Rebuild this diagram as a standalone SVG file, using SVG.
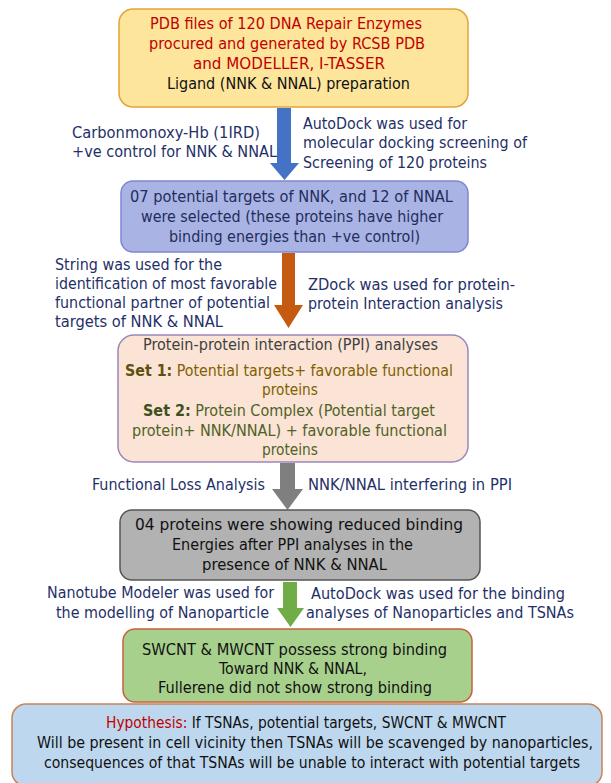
<svg xmlns="http://www.w3.org/2000/svg" width="611" height="783" viewBox="0 0 611 783">
<style>
text{font-family:"DejaVu Sans Condensed","DejaVu Sans",Tahoma,sans-serif;font-size:15px;}
.lbl{fill:#1f3068;}
.red{fill:#c00000;}
.blk{fill:#111111;}
.nav{fill:#1f2d5c;}
.b{font-weight:bold;}
</style>
<rect width="611" height="783" fill="#ffffff"/>
<g id="connectors">
  <polygon points="277,108 291,108 291,163 299,163 284.5,180 270,163 277,163" fill="#4472c4"/>
  <polygon points="282,253 295,253 295,305 303,305 288.5,328 274,305 282,305" fill="#c55a11"/>
  <polygon points="280,463 295,463 295,489 303,489 287.5,510 272,489 280,489" fill="#7f7f7f"/>
  <polygon points="283,582 297,582 297,608 304,608 290.5,627 277,608 283,608" fill="#70ad47"/>
</g>
<g id="labels">
  <text class="lbl" x="72" y="138" textLength="188" lengthAdjust="spacingAndGlyphs">Carbonmonoxy-Hb (1IRD)</text>
  <text class="lbl" x="72" y="157" textLength="205" lengthAdjust="spacingAndGlyphs">+ve control for NNK &amp; NNAL</text>
  <text class="lbl" x="303" y="129" textLength="164" lengthAdjust="spacingAndGlyphs">AutoDock was used for</text>
  <text class="lbl" x="303" y="148" textLength="224" lengthAdjust="spacingAndGlyphs">molecular docking screening of</text>
  <text class="lbl" x="303" y="168" textLength="184" lengthAdjust="spacingAndGlyphs">Screening of 120 proteins</text>
  <text class="lbl" x="55" y="270" textLength="167" lengthAdjust="spacingAndGlyphs">String was used for the</text>
  <text class="lbl" x="55" y="289" textLength="222" lengthAdjust="spacingAndGlyphs">identification of most favorable</text>
  <text class="lbl" x="55" y="308" textLength="215" lengthAdjust="spacingAndGlyphs">functional partner of potential</text>
  <text class="lbl" x="55" y="327" textLength="168" lengthAdjust="spacingAndGlyphs">targets of NNK &amp; NNAL</text>
  <text class="lbl" x="308" y="290" textLength="207" lengthAdjust="spacingAndGlyphs">ZDock was used for protein-</text>
  <text class="lbl" x="308" y="309" textLength="195" lengthAdjust="spacingAndGlyphs">protein Interaction analysis</text>
  <text class="lbl" x="92" y="490" textLength="173" lengthAdjust="spacingAndGlyphs">Functional Loss Analysis</text>
  <text class="lbl" x="308" y="490" textLength="204" lengthAdjust="spacingAndGlyphs">NNK/NNAL interfering in PPI</text>
  <text class="lbl" x="47" y="598" textLength="227" lengthAdjust="spacingAndGlyphs">Nanotube Modeler was used for</text>
  <text class="lbl" x="56" y="618" textLength="213" lengthAdjust="spacingAndGlyphs">the modelling of Nanoparticle</text>
  <text class="lbl" x="311" y="599" textLength="254" lengthAdjust="spacingAndGlyphs">AutoDock was used for the binding</text>
  <text class="lbl" x="306" y="618" textLength="268" lengthAdjust="spacingAndGlyphs">analyses of Nanoparticles and TSNAs</text>
</g>
<g id="node1">
  <rect x="119" y="9" width="349" height="98" rx="14" fill="#fde59c" stroke="#e3a43c" stroke-width="1.5"/>
  <text class="red" x="150" y="29" textLength="272" lengthAdjust="spacingAndGlyphs">PDB files of 120 DNA Repair Enzymes</text>
  <text class="red" x="149" y="49" textLength="276" lengthAdjust="spacingAndGlyphs">procured and generated by RCSB PDB</text>
  <text class="red" x="193" y="69" textLength="192" lengthAdjust="spacingAndGlyphs">and MODELLER, I-TASSER</text>
  <text class="blk" x="167" y="89" textLength="243" lengthAdjust="spacingAndGlyphs">Ligand (NNK &amp; NNAL) preparation</text>
</g>
<g id="node2">
  <rect x="121" y="181" width="347" height="71" rx="12" fill="#aab4e4" stroke="#7d87cf" stroke-width="1.5"/>
  <text class="nav" x="130" y="202" textLength="323" lengthAdjust="spacingAndGlyphs">07 potential targets of NNK, and 12 of NNAL</text>
  <text class="nav" x="141" y="222" textLength="302" lengthAdjust="spacingAndGlyphs">were selected (these proteins have higher</text>
  <text class="nav" x="169" y="242" textLength="251" lengthAdjust="spacingAndGlyphs">binding energies than +ve control)</text>
</g>
<g id="node3">
  <rect x="118" y="335" width="350" height="127" rx="16" fill="#fbe4d5" stroke="#9a86bc" stroke-width="1.5"/>
  <text fill="#404040" x="143" y="350" textLength="295" lengthAdjust="spacingAndGlyphs">Protein-protein interaction (PPI) analyses</text>
  <text fill="#7f6000" x="125" y="376" textLength="328" lengthAdjust="spacingAndGlyphs"><tspan class="b" fill="#5f5010">Set 1:</tspan> Potential targets+ favorable functional</text>
  <text fill="#7f6000" x="262" y="395" textLength="56" lengthAdjust="spacingAndGlyphs">proteins</text>
  <text fill="#4f6228" x="143" y="416" textLength="292" lengthAdjust="spacingAndGlyphs"><tspan class="b" fill="#3f4f20">Set 2:</tspan> Protein Complex (Potential target</text>
  <text fill="#4f6228" x="132" y="436" textLength="315" lengthAdjust="spacingAndGlyphs">protein+ NNK/NNAL) + favorable functional</text>
  <text fill="#4f6228" x="262" y="455" textLength="56" lengthAdjust="spacingAndGlyphs">proteins</text>
</g>
<g id="node4">
  <rect x="120" y="510" width="360" height="70" rx="12" fill="#b2b2b2" stroke="#555555" stroke-width="1.5"/>
  <text class="blk" x="135" y="530" textLength="328" lengthAdjust="spacingAndGlyphs">04 proteins were showing reduced binding</text>
  <text class="blk" x="172" y="550" textLength="241" lengthAdjust="spacingAndGlyphs">Energies after PPI analyses in the</text>
  <text class="blk" x="202" y="570" textLength="185" lengthAdjust="spacingAndGlyphs">presence of NNK &amp; NNAL</text>
</g>
<g id="node5">
  <rect x="123" y="629" width="349" height="73" rx="12" fill="#a8d08d" stroke="#c5603c" stroke-width="1.5"/>
  <text class="blk" x="142" y="655" textLength="305" lengthAdjust="spacingAndGlyphs">SWCNT &amp; MWCNT possess strong binding</text>
  <text class="blk" x="219" y="674" textLength="148" lengthAdjust="spacingAndGlyphs">Toward NNK &amp; NNAL,</text>
  <text class="blk" x="158" y="693" textLength="274" lengthAdjust="spacingAndGlyphs">Fullerene did not show strong binding</text>
</g>
<g id="node6">
  <rect x="12" y="704" width="590" height="82" rx="14" fill="#bdd7ee" stroke="#c8825a" stroke-width="1.5"/>
  <text class="blk" x="106" y="728" textLength="400" lengthAdjust="spacingAndGlyphs"><tspan class="red">Hypothesis:</tspan> If TSNAs, potential targets, SWCNT &amp; MWCNT</text>
  <text class="blk" x="37" y="748" textLength="556" lengthAdjust="spacingAndGlyphs">Will be present in cell vicinity then TSNAs will be scavenged by nanoparticles,</text>
  <text class="blk" x="44" y="768" textLength="536" lengthAdjust="spacingAndGlyphs">consequences of that TSNAs will be unable to interact with potential targets</text>
</g>
</svg>
